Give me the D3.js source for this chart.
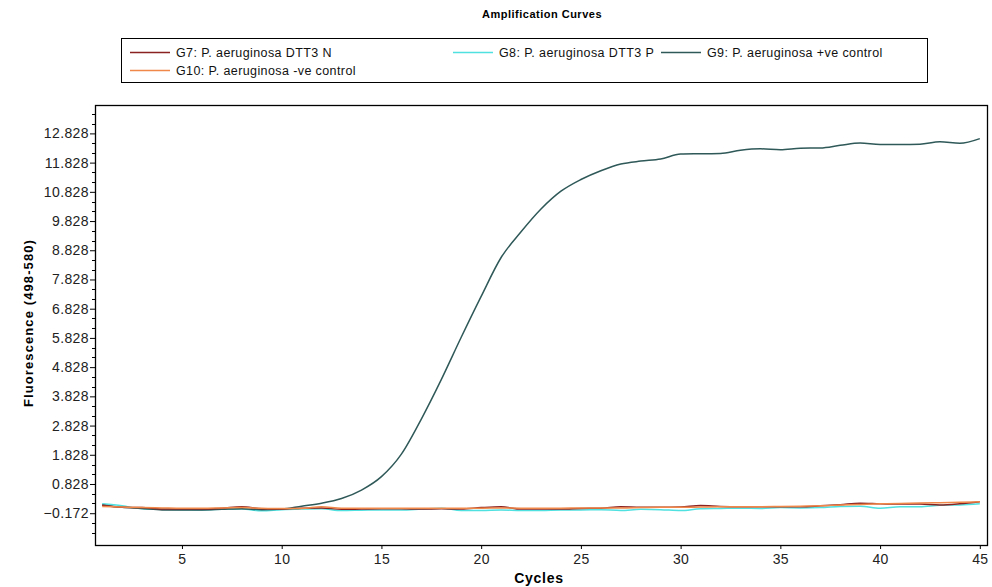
<!DOCTYPE html>
<html>
	<head>
		<meta charset="utf-8">
		<script src="https://cdnjs.cloudflare.com/ajax/libs/d3/7.8.5/d3.min.js"></script>
		<style>
			body {
				margin: 0;
				background: #ffffff;
			}
			text {
				font-family: "Liberation Sans", Arial, sans-serif;
			}
		</style>
	</head>
	<body>
		<script type="text/javascript">
			// data
			var cycles = [1,2,3,4,5,6,7,8,9,10,11,12,13,14,15,16,17,18,19,20,21,22,23,
				24,25,26,27,28,29,30,31,32,33,34,35,36,37,38,39,40,41,42,43,44,45];

			var g7 = [0.10,0.03,0.02,-0.03,-0.03,-0.03,0.00,0.05,-0.02,-0.03,0.00,0.01,-0.04,-0.03,-0.02,
				-0.02,-0.03,-0.02,-0.03,0.02,0.05,-0.03,-0.03,-0.03,-0.01,0.00,0.05,0.03,0.03,0.04,
				0.09,0.06,0.05,0.05,0.05,0.05,0.08,0.12,0.17,0.15,0.14,0.14,0.11,0.15,0.22];

			var g8 = [0.15,0.08,-0.02,-0.04,-0.05,-0.06,-0.04,-0.03,-0.09,-0.05,-0.03,-0.02,-0.08,-0.07,-0.06,
				-0.06,-0.03,0.00,-0.08,-0.08,-0.06,-0.08,-0.08,-0.06,-0.06,-0.05,-0.08,-0.04,-0.05,-0.08,
				-0.02,-0.01,0.00,-0.01,0.02,0.01,0.02,0.06,0.07,0.00,0.05,0.05,0.10,0.11,0.15];

			var g9 = [0.11,0.03,-0.01,-0.06,-0.06,-0.06,-0.04,-0.02,-0.05,-0.03,0.07,0.17,0.33,0.62,1.08,
				1.85,3.05,4.40,5.85,7.25,8.58,9.46,10.24,10.85,11.25,11.55,11.78,11.88,11.95,12.12,
				12.13,12.14,12.25,12.30,12.27,12.32,12.33,12.42,12.50,12.45,12.45,12.46,12.54,12.49,12.65];

			var g10 = [0.06,0.04,0.02,0.01,0.00,0.00,0.01,0.02,0.00,-0.01,-0.01,0.05,0.00,0.00,0.00,
				0.00,0.00,0.00,0.00,0.00,0.01,0.00,0.00,0.00,0.01,0.01,0.01,0.02,0.03,0.03,
				0.04,0.05,0.05,0.05,0.06,0.07,0.08,0.11,0.13,0.15,0.16,0.18,0.19,0.20,0.22];

			var seriesNames = ["G7: P. aeruginosa DTT3 N", "G8: P. aeruginosa DTT3 P",
				"G9: P. aeruginosa +ve control", "G10: P. aeruginosa -ve control"];
			var seriesColors = ["#8a2222", "#4fe0e0", "#2f5858", "#f0884a"];

			var xTicks = [5,10,15,20,25,30,35,40,45];
			var yTicks = [-0.172,0.828,1.828,2.828,3.828,4.828,5.828,6.828,7.828,8.828,9.828,10.828,11.828,12.828];

			var width = 992, height = 587;
			var mLeft = 95, mRight = 987, mTop = 105, mBottom = 545;

			var svg = d3.select("body").append("svg")
				.attr("width", width)
				.attr("height", height);

			var x = d3.scaleLinear().domain([0.64, 45.36]).range([mLeft, mRight]);
			var y = d3.scaleLinear().domain([-1.26, 13.8]).range([mBottom, mTop]);

			//Title
			svg.append("text")
				.attr("x", 542)
				.attr("y", 18)
				.attr("text-anchor", "middle")
				.style("font-size", "11px")
				.style("font-weight", "bold")
				.style("letter-spacing", "0.5px")
				.text("Amplification Curves");

			//Legend
			var leg = svg.append("g");
			leg.append("rect")
				.attr("x", 121.5).attr("y", 38.5)
				.attr("width", 806).attr("height", 44)
				.attr("fill", "#fff")
				.attr("stroke", "#000");

			var legPos = [[130, 57], [453, 57], [661, 57], [130, 75]];
			seriesNames.forEach(function(name, i) {
				leg.append("line")
					.attr("x1", legPos[i][0]).attr("x2", legPos[i][0] + 40)
					.attr("y1", legPos[i][1] - 4.5).attr("y2", legPos[i][1] - 4.5)
					.attr("stroke", seriesColors[i])
					.attr("stroke-width", 1.3);
				leg.append("text")
					.attr("x", legPos[i][0] + 46)
					.attr("y", legPos[i][1])
					.style("font-size", "12.5px")
					.style("letter-spacing", "0.4px")
					.style("fill", "#111")
					.text(name);
			});

			//Axes
			var yAxis = d3.axisLeft(y)
				.tickValues(yTicks)
				.tickFormat(d3.format(".3f"))
				.tickSize(5)
				.tickPadding(1);
			var yg = svg.append("g")
				.attr("transform", "translate(" + mLeft + ",0)")
				.call(yAxis);
			yg.select(".domain").remove();
			yg.selectAll("text")
				.style("font-size", "14px")
				.style("letter-spacing", "0.4px")
				.style("fill", "#222");

			// minor ticks on y, a third of a unit apart
			var minor = [];
			yTicks.forEach(function(t) {
				minor.push(t + 1/3, t + 2/3);
				if (t == yTicks[0]) minor.push(t - 1/3, t - 2/3);
			});
			svg.append("g").selectAll("line")
				.data(minor.filter(function(d) { return d < 13.8 && d > -1.26; }))
				.enter().append("line")
				.attr("x1", mLeft - 3).attr("x2", mLeft)
				.attr("y1", function(d) { return Math.round(y(d)) + 0.5; })
				.attr("y2", function(d) { return Math.round(y(d)) + 0.5; })
				.attr("stroke", "#000");

			var xAxis = d3.axisBottom(x)
				.tickValues(xTicks)
				.tickSize(4)
				.tickPadding(5);
			var xg = svg.append("g")
				.attr("transform", "translate(0," + mBottom + ")")
				.call(xAxis);
			xg.select(".domain").remove();
			xg.selectAll("text")
				.style("font-size", "14px")
				.style("letter-spacing", "0.4px")
				.style("fill", "#222");

			//Frame
			svg.append("rect")
				.attr("x", mLeft + 0.5).attr("y", mTop + 0.5)
				.attr("width", mRight - mLeft).attr("height", mBottom - mTop)
				.attr("fill", "none")
				.attr("stroke", "#000")
				.attr("stroke-width", 1.3);

			//Axis labels
			svg.append("text")
				.attr("transform", "translate(33,323) rotate(-90)")
				.attr("text-anchor", "middle")
				.style("font-size", "13px")
				.style("font-weight", "bold")
				.style("letter-spacing", "1.1px")
				.text("Fluorescence (498-580)");

			svg.append("text")
				.attr("x", 539)
				.attr("y", 583)
				.attr("text-anchor", "middle")
				.style("font-size", "14px")
				.style("font-weight", "bold")
				.style("letter-spacing", "0.7px")
				.text("Cycles");

			//Curves
			var line = d3.line()
				.curve(d3.curveMonotoneX)
				.x(function(d) { return x(d[0]); })
				.y(function(d) { return y(d[1]); });

			var all = [g7, g8, g9, g10];
			[1, 2, 0, 3].forEach(function(i) {
				svg.append("path")
					.datum(cycles.map(function(c, j) { return [c, all[i][j]]; }))
					.attr("d", line)
					.attr("fill", "none")
					.attr("stroke", seriesColors[i])
					.attr("stroke-width", 1.5);
			});
		</script>
	</body>
</html>
